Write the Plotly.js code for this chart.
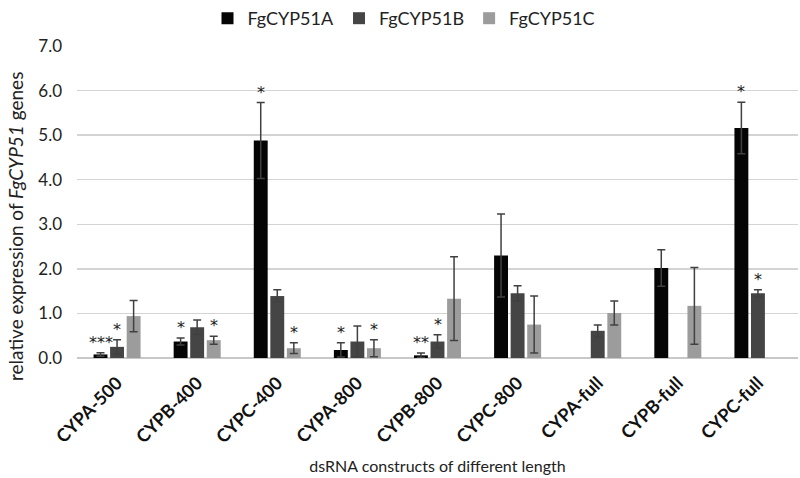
<!DOCTYPE html>
<html><head><meta charset="utf-8">
<script src="https://cdn.plot.ly/plotly-3.0.1.min.js"></script>
<style>html,body{margin:0;padding:0;background:#fff}#chart{width:800px;height:478px}</style>
</head><body><div id="chart"></div>
<script>
const categories = ["CYPA-500","CYPB-400","CYPC-400","CYPA-800","CYPB-800","CYPC-800","CYPA-full","CYPB-full","CYPC-full"];
const seriesNames = ["FgCYP51A","FgCYP51B","FgCYP51C"];
const valuesA = [0.08, 0.37, 4.88, 0.18, 0.06, 2.30, null, 2.02, 5.16];
const errA    = [0.04, 0.08, 0.85, 0.16, 0.05, 0.93, null, 0.41, 0.58];
const valuesB = [0.25, 0.69, 1.39, 0.37, 0.37, 1.45, 0.61, null, 1.45];
const errB    = [0.16, 0.16, 0.14, 0.35, 0.15, 0.17, 0.13, null, 0.08];
const valuesC = [0.94, 0.40, 0.22, 0.22, 1.33, 0.75, 1.01, 1.17, null];
const errC    = [0.35, 0.09, 0.12, 0.19, 0.94, 0.64, 0.27, 0.86, null];
const starsA  = ["***","*","*","*","**","","","","*"];
const starsB  = ["*","","","","*","","","","*"];
const starsC  = ["","*","*","*","","","","",""];
const ytickVals = [0,1,2,3,4,5,6,7];
const ytickText = ["0.0","1.0","2.0","3.0","4.0","5.0","6.0","7.0"];

const colors = ["#050505","#454545","#9c9c9c"];
const vals = [valuesA, valuesB, valuesC];
const errs = [errA, errB, errC];
const stars = [starsA, starsB, starsC];
const FONT = "Lato, 'Open Sans', sans-serif";

const traces = vals.map((v,k)=>({
  type:"bar", name:seriesNames[k], x:categories, y:v,
  marker:{color:colors[k]},
  error_y:{type:"data", array:errs[k], visible:true, color:"#404040", thickness:1.5, width:4},
  hoverinfo:"skip"
}));

const bargap = 0.38;
const slot = (1-bargap)/3;
const annotations = [];
stars.forEach((arr,k)=>{
  arr.forEach((s,i)=>{
    if(!s) return;
    const top = (vals[k][i]||0) + (errs[k][i]||0);
    annotations.push({xref:"x", yref:"y", x:i+(k-1)*slot, y:top, text:s, showarrow:false,
      yanchor:"bottom", yshift:-1, font:{family:"'DejaVu Sans', sans-serif",size:16,color:"#1a1a1a"}});
  });
});
annotations.push({xref:"paper", yref:"paper", x:-0.0846, y:0.42, xanchor:"center", yanchor:"middle",
  textangle:-90, showarrow:false,
  text:"relative expression of <i>FgCYP51</i> genes", font:{family:FONT,size:19,color:"#222"}});

const layout = {
  width:800, height:478,
  margin:{l:77, r:2, t:46, b:120},
  paper_bgcolor:"#fff", plot_bgcolor:"#fff",
  font:{family:FONT, color:"#222"},
  barmode:"group", bargap:bargap, bargroupgap:0.16,
  showlegend:true,
  legend:{orientation:"h", xref:"container", yref:"container", x:0.505, y:1.0, xanchor:"center", yanchor:"top",
    font:{family:FONT,size:18,color:"#222"}, itemwidth:30, traceorder:"normal"},
  xaxis:{type:"category", tickangle:-45, tickfont:{family:FONT,size:18,color:"#111",weight:"bold"},
    showgrid:false, showline:false, ticks:"", zeroline:false, ticklabelstandoff:10,
    title:{text:"dsRNA constructs of different length", font:{family:FONT,size:16,color:"#222"}, standoff:14}},
  yaxis:{range:[0,7], tickvals:ytickVals, ticktext:ytickText, showgrid:true, gridcolor:"#d4d4d4", gridwidth:1.5,
    zeroline:true, zerolinecolor:"#c8c8c8", zerolinewidth:1.5, showline:false, ticks:"",
    ticklabelstandoff:14, tickfont:{family:FONT,size:17,color:"#222"}},
  annotations:annotations
};
Plotly.newPlot("chart", traces, layout, {displayModeBar:false, staticPlot:true});
</script></body></html>
